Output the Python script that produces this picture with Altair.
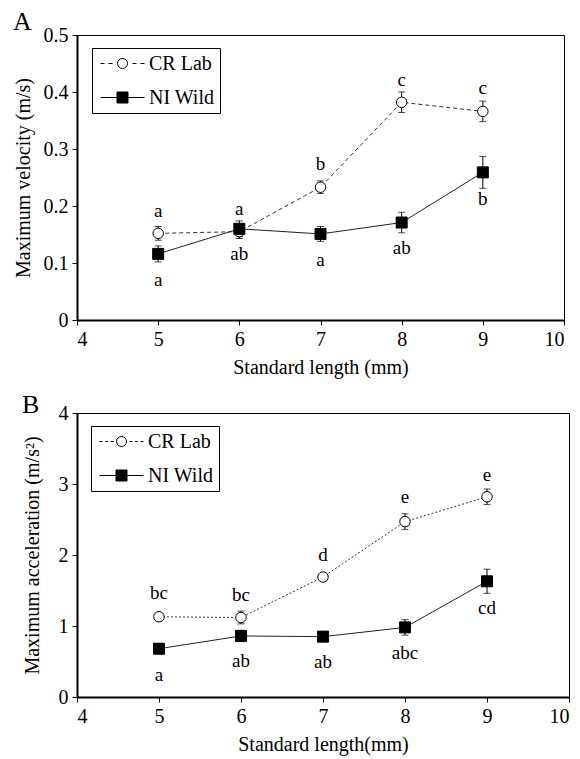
import altair as alt
import pandas as pd

# ---------------- data ----------------
lengths = [5, 6, 7, 8, 9]
series_names = ["CR Lab", "NI Wild"]

# Panel A: maximum velocity (m/s)
cr_vel = [0.152, 0.155, 0.233, 0.382, 0.366]
cr_vel_err = [0.012, 0.012, 0.011, 0.018, 0.018]
ni_vel = [0.116, 0.160, 0.151, 0.171, 0.259]
ni_vel_err = [0.014, 0.014, 0.013, 0.018, 0.028]
cr_vel_letters = ["a", "a", "b", "c", "c"]
cr_vel_letter_y = [0.192, 0.195, 0.273, 0.421, 0.407]
ni_vel_letters = ["a", "ab", "a", "ab", "b"]
ni_vel_letter_y = [0.070, 0.115, 0.105, 0.126, 0.212]

# Panel B: maximum acceleration (m/s2)
cr_acc = [1.13, 1.12, 1.69, 2.47, 2.82]
cr_acc_err = [0.05, 0.09, 0.04, 0.11, 0.11]
ni_acc = [0.68, 0.86, 0.85, 0.98, 1.63]
ni_acc_err = [0.07, 0.08, 0.07, 0.11, 0.17]
cr_acc_letters = ["bc", "bc", "d", "e", "e"]
cr_acc_letter_y = [1.46, 1.44, 2.00, 2.81, 3.13]
ni_acc_letters = ["a", "ab", "ab", "abc", "cd"]
ni_acc_letter_y = [0.31, 0.51, 0.49, 0.62, 1.26]

x_ticks = [4, 5, 6, 7, 8, 9, 10]

FONT = "Liberation Serif, Times New Roman, serif"

# legend symbol paths (unit = half of the nominal symbol width)
CIRCLE = "M0.5,0 A0.5,0.5 0 1,1 -0.5,0 A0.5,0.5 0 1,1 0.5,0 Z"
SQUARE = "M-0.55,-0.55 L0.55,-0.55 L0.55,0.55 L-0.55,0.55 Z"
CR_DASHED = ("M-2.2,0 L-1.8,0 M-1.4,0 L-1.0,0 M1.0,0 L1.4,0 M1.8,0 L2.2,0 " + CIRCLE)
CR_DOTTED = ("M-2.2,0 L-1.9,0 M-1.65,0 L-1.35,0 M-1.1,0 L-0.8,0 "
             "M0.8,0 L1.1,0 M1.35,0 L1.65,0 M1.9,0 L2.2,0 " + CIRCLE)
NI_SOLID = "M-2.2,0 L-0.55,0 M0.55,0 L2.2,0 " + SQUARE


def build_df(cr, cr_err, ni, ni_err, cr_let, cr_ly, ni_let, ni_ly):
    rows = []
    for name, m, e, let, ly in [("CR Lab", cr, cr_err, cr_let, cr_ly),
                                ("NI Wild", ni, ni_err, ni_let, ni_ly)]:
        for i, xv in enumerate(lengths):
            rows.append({"x": xv, "series": name, "mean": m[i],
                         "lo": m[i] - e[i], "hi": m[i] + e[i],
                         "letter": let[i], "ly": ly[i]})
    return pd.DataFrame(rows)


def panel(df, letter, xtitle, ytitle, ymax, yticks, ylabel_expr, cr_dash, cr_path,
          width, height, legend_x, legend_y, ytitle_pad, title_offset):
    xs = alt.Scale(domain=[4, 10], nice=False)
    ys = alt.Scale(domain=[0, ymax], nice=False)
    xaxis = alt.Axis(values=x_ticks, title=xtitle, format="d", grid=False)
    yaxis = alt.Axis(values=yticks, title=ytitle, grid=False, labelExpr=ylabel_expr,
                     titlePadding=ytitle_pad)

    def X():
        return alt.X("x:Q", scale=xs, axis=xaxis)

    def Y(f):
        return alt.Y(f, scale=ys, axis=yaxis)

    base = alt.Chart(df)
    cr = base.transform_filter(alt.datum.series == "CR Lab")
    ni = base.transform_filter(alt.datum.series == "NI Wild")

    line_cr = cr.mark_line(color="#333333", strokeWidth=1, strokeDash=cr_dash).encode(x=X(), y=Y("mean:Q"))
    line_ni = ni.mark_line(color="#222222", strokeWidth=1).encode(x=X(), y=Y("mean:Q"))
    err = base.mark_rule(color="black", strokeWidth=1).encode(x=X(), y=Y("lo:Q"), y2="hi:Q")
    cap_lo = base.mark_tick(orient="horizontal", size=7, thickness=1, color="black").encode(x=X(), y=Y("lo:Q"))
    cap_hi = base.mark_tick(orient="horizontal", size=7, thickness=1, color="black").encode(x=X(), y=Y("hi:Q"))
    pts_cr = cr.mark_point(shape="circle", size=110, filled=True, fill="white",
                           stroke="black", strokeWidth=1, opacity=1).encode(x=X(), y=Y("mean:Q"))
    pts_ni = ni.mark_point(shape="square", size=121, filled=True, fill="black",
                           stroke="black", strokeWidth=1, opacity=1).encode(x=X(), y=Y("mean:Q"))
    txt = base.mark_text(font=FONT, fontSize=19, color="black", baseline="middle").encode(
        x=X(), y=Y("ly:Q"), text="letter:N")

    leg = alt.Legend(title=None, orient="none", legendX=legend_x, legendY=legend_y,
                     strokeColor="black", fillColor="white", padding=5,
                     labelFont=FONT, labelFontSize=20, labelColor="black",
                     symbolSize=400, symbolStrokeWidth=1, symbolOffset=15,
                     labelOffset=16, rowPadding=13, labelLimit=200)
    legend_layer = base.transform_filter("false").mark_point(
        filled=True, strokeWidth=1, opacity=1).encode(
        x=X(), y=Y("mean:Q"),
        shape=alt.Shape("series:N", scale=alt.Scale(domain=series_names, range=[cr_path, NI_SOLID]), legend=leg),
        fill=alt.Fill("series:N", scale=alt.Scale(domain=series_names, range=["white", "black"]), legend=leg),
        stroke=alt.Stroke("series:N", scale=alt.Scale(domain=series_names, range=["black", "black"]), legend=leg),
    )

    return alt.layer(line_cr, line_ni, err, cap_lo, cap_hi, pts_cr, pts_ni, txt, legend_layer).properties(
        width=width, height=height,
        title=alt.TitleParams(text=letter, anchor="start", frame="bounds", font=FONT,
                              fontSize=26, fontWeight="normal", color="black", offset=title_offset),
    )


df_a = build_df(cr_vel, cr_vel_err, ni_vel, ni_vel_err,
                cr_vel_letters, cr_vel_letter_y, ni_vel_letters, ni_vel_letter_y)
df_b = build_df(cr_acc, cr_acc_err, ni_acc, ni_acc_err,
                cr_acc_letters, cr_acc_letter_y, ni_acc_letters, ni_acc_letter_y)

pa = panel(df_a, "A", "Standard length (mm)", "Maximum velocity (m/s)", 0.5,
           [0, 0.1, 0.2, 0.3, 0.4, 0.5],
           "datum.value == 0 ? '0' : format(datum.value, '.1f')", [4, 3], CR_DASHED,
           487, 285, 15, 13, 10, -10)
pb = panel(df_b, "B", "Standard length(mm)", "Maximum acceleration (m/s²)", 4, [0, 1, 2, 3, 4],
           "format(datum.value, 'd')", [2, 2], CR_DOTTED,
           492, 284, 14, 13, 16, -15)

chart = alt.vconcat(pa, pb, spacing=13).resolve_scale(
    shape="independent", fill="independent", stroke="independent"
).resolve_legend(shape="independent", fill="independent", stroke="independent").properties(
    padding={"left": 4, "top": 0, "right": 0, "bottom": 5}
).configure_view(stroke="black", strokeWidth=1).configure_axis(
    labelFont=FONT, labelFontSize=20, labelColor="black",
    titleFont=FONT, titleFontSize=20, titleFontWeight="normal", titleColor="black",
    domainColor="black", domainWidth=2, tickColor="black", tickSize=5, tickWidth=1,
    labelPadding=4,
).configure_axisX(titlePadding=8)

chart.save("out.html", embed_options={"renderer": "svg", "actions": False})
